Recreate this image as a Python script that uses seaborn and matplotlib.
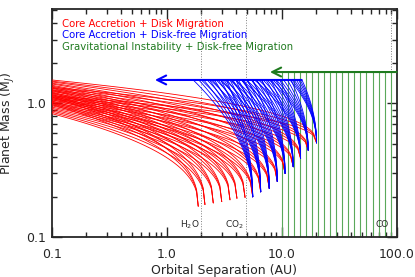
import numpy as np
import pandas as pd
import matplotlib
matplotlib.use('Agg')
import matplotlib.pyplot as plt
import matplotlib.ticker as mticker
import seaborn as sns

# core formation sites (AU) and the mass there (M_J)
seed_a = [1.88, 2.15, 2.54, 3.01, 3.55, 4.08, 4.8, 5.6, 6.57, 7.8, 9.16, 10.7, 12.6, 14.6, 17.0, 20.1]
seed_m = [0.17, 0.175, 0.18, 0.184, 0.19, 0.195, 0.198, 0.20, 0.218, 0.231, 0.26, 0.30, 0.336, 0.388, 0.447, 0.507]

# final mass at 0.1 AU for the disk migration tracks (3 per site)
red_final = [
    [0.84, 0.98, 1.12], [0.86, 1.00, 1.15], [0.88, 1.02, 1.17], [0.90, 1.04, 1.20],
    [0.92, 1.07, 1.22], [0.94, 1.09, 1.25], [0.96, 1.11, 1.27], [0.98, 1.13, 1.30],
    [1.00, 1.16, 1.32], [1.02, 1.18, 1.35], [1.04, 1.20, 1.37], [1.06, 1.23, 1.40],
    [1.08, 1.25, 1.42], [1.10, 1.27, 1.45], [1.12, 1.30, 1.47], [1.14, 1.32, 1.50],
]

# disk-free tracks: they start at the outer 9 sites and stop at 1.5 M_J
blue_mass = 1.5
blue_tops = [
    [1.70, 1.90, 2.10, 2.35, 2.60, 2.95, 3.30],
    [2.00, 2.25, 2.50, 2.80, 3.15, 3.55, 4.00],
    [2.40, 2.70, 3.00, 3.35, 3.75, 4.20, 4.70],
    [2.90, 3.25, 3.60, 4.00, 4.50, 5.00, 5.60],
    [3.60, 4.00, 4.45, 4.90, 5.45, 6.05, 6.70],
    [4.50, 4.95, 5.45, 6.00, 6.60, 7.30, 8.00],
    [5.80, 6.30, 6.90, 7.50, 8.15, 8.85, 9.60],
    [7.80, 8.40, 9.00, 9.70, 10.4, 11.2, 12.0],
    [11.8, 12.3, 12.8, 13.4, 14.0, 14.5, 15.0],
]
blue_arrow = [14.9, 0.79]

# gravitational instability planets
green_a = [10.0, 11.3, 12.7, 14.4, 16.2, 18.3, 20.7, 23.4, 26.4, 29.8,
           33.6, 37.9, 42.8, 48.3, 54.6, 61.6, 69.5, 78.5, 88.6, 100.0]
green_mass = 1.72
green_arrow = [100.0, 7.9]

snow_a = [2.0, 4.85, 88.7]
snow_lbl = ['H$_2$O', 'CO$_2$', 'CO']


def track(a_out, m_out, a_in, m_in, p=0.42, n=90):
    u = np.linspace(0, 1, n)
    la = np.log10(a_in) + u * (np.log10(a_out) - np.log10(a_in))
    lm = np.log10(m_out) + (np.log10(m_in) - np.log10(m_out)) * (1 - u) ** p
    return 10 ** la, 10 ** lm


rows = []
k = 0
for a0, m0, fins in zip(seed_a, seed_m, red_final):
    for mf in fins:
        a, m = track(a0, m0, 0.1, mf)
        rows.append(pd.DataFrame({'a': a, 'm': m, 'track': k}))
        k += 1
red_df = pd.concat(rows)

rows = []
k = 0
for a0, m0, tops in zip(seed_a[7:], seed_m[7:], blue_tops):
    for at in tops:
        a, m = track(a0, m0, at, blue_mass, p=0.5)
        rows.append(pd.DataFrame({'a': a, 'm': m, 'track': k}))
        k += 1
blue_df = pd.concat(rows)

sns.set_style('ticks')
plt.rcParams['font.family'] = ['DejaVu Sans']

fig = plt.figure(figsize=(4.15, 2.77), dpi=100)
ax = fig.add_axes([0.1246, 0.1444, 0.8313, 0.8231])
ax.set_xscale('log')
ax.set_yscale('log')

for a in snow_a:
    ax.axvline(a, color='gray', ls=':', lw=0.7, zorder=1)

ax.vlines(green_a, 0.1, green_mass, color='#5aa85a', lw=0.8, zorder=2)
ax.annotate('', xy=(green_arrow[1], green_mass), xytext=(green_arrow[0], green_mass),
            arrowprops=dict(arrowstyle='->', color='#1f7a1f', lw=1.5, mutation_scale=16,
                            shrinkA=0, shrinkB=0), zorder=3)

sns.lineplot(data=red_df, x='a', y='m', units='track', estimator=None, sort=False,
             color='red', lw=0.6, ax=ax, zorder=4)
sns.lineplot(data=blue_df, x='a', y='m', units='track', estimator=None, sort=False,
             color='blue', lw=0.6, ax=ax, zorder=5)
ax.annotate('', xy=(blue_arrow[1], blue_mass), xytext=(blue_arrow[0], blue_mass),
            arrowprops=dict(arrowstyle='->', color='blue', lw=1.5, mutation_scale=16,
                            shrinkA=0, shrinkB=0), zorder=6)

for a, lbl in zip(snow_a, snow_lbl):
    ax.text(a * 0.97, 0.124, lbl, ha='right', va='center', fontsize=6.5)

ax.text(0.03, 0.934, 'Core Accretion + Disk Migration', transform=ax.transAxes,
        color='red', fontsize=7.3, va='center')
ax.text(0.03, 0.886, 'Core Accretion + Disk-free Migration', transform=ax.transAxes,
        color='blue', fontsize=7.3, va='center')
ax.text(0.03, 0.833, 'Gravitational Instability + Disk-free Migration', transform=ax.transAxes,
        color='#1f7a1f', fontsize=7.3, va='center')

ax.set_xlim(0.1, 100)
ax.set_ylim(0.1, 5.1)
ax.set_xticks([0.1, 1, 10, 100])
ax.set_xticklabels(['0.1', '1.0', '10.0', '100.0'])
ax.set_yticks([0.1, 1])
ax.set_yticklabels(['0.1', '1.0'])
ax.xaxis.set_minor_formatter(mticker.NullFormatter())
ax.yaxis.set_minor_formatter(mticker.NullFormatter())
ax.tick_params(which='both', direction='in', top=True, right=True, labelsize=9, width=1)
ax.tick_params(which='major', length=7)
ax.tick_params(which='minor', length=3.5)
ax.tick_params(axis='x', which='major', pad=8)
ax.tick_params(axis='y', which='major', pad=4)
for s in ax.spines.values():
    s.set_linewidth(1.3)

ax.set_xlabel('Orbital Separation (AU)', fontsize=9, labelpad=2)
ax.set_ylabel('Planet Mass (M$_J$)', fontsize=9, labelpad=7)

fig.savefig('out.png', dpi=100)
